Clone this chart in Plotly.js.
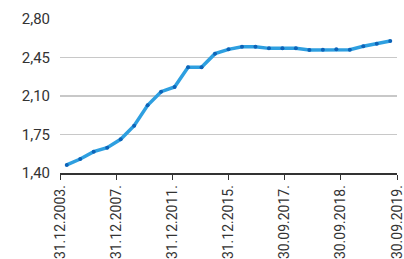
<!DOCTYPE html>
<html>
<head>
<meta charset="utf-8">
<script src="https://cdn.plot.ly/plotly-3.0.1.min.js"></script>
<style>html,body{margin:0;padding:0;background:#fff;}#chart{width:404px;height:259px;}</style>
</head>
<body>
<div id="chart"></div>
<script>
const values = [1.473, 1.527, 1.594, 1.630, 1.706, 1.830, 2.015, 2.139, 2.182, 2.361, 2.361, 2.485, 2.524, 2.548, 2.548, 2.533, 2.533, 2.533, 2.518, 2.521, 2.524, 2.521, 2.552, 2.576, 2.600];
const tickLabels = ["31.12.2003.", "31.12.2007.", "31.12.2011.", "31.12.2015.", "30.09.2017.", "30.09.2018.", "30.09.2019."];
const yTicks = [1.40, 1.75, 2.10, 2.45, 2.80];

const n = values.length;
const xs = values.map((v, i) => i);
const tickPos = tickLabels.map((t, k) => -0.5 + k * (n - 0.0001) / (tickLabels.length - 1));

Plotly.newPlot('chart', [{
  x: xs, y: values, type: 'scatter', mode: 'lines+markers',
  line: {color: '#2e9fe0', width: 3.5},
  marker: {color: '#0d63b8', size: 4},
  hoverinfo: 'none'
}], {
  width: 404, height: 259,
  margin: {l: 60, r: 7, t: 19, b: 86},
  paper_bgcolor: '#fff', plot_bgcolor: '#fff',
  showlegend: false,
  font: {family: 'Roboto, sans-serif', color: '#333'},
  xaxis: {
    range: [-0.5, n - 0.5], tickmode: 'array', tickvals: tickPos, ticktext: tickLabels,
    tickangle: -90, showgrid: false, zeroline: false, ticklabeloverflow: 'allow',
    showline: true, linecolor: '#333', linewidth: 1.5,
    ticks: 'outside', ticklen: 5, tickcolor: '#333', tickwidth: 1,
    tickfont: {size: 14, color: '#333'}, fixedrange: true
  },
  yaxis: {
    range: [1.40, 2.80], tickmode: 'array', tickvals: yTicks,
    ticktext: yTicks.map(v => v.toFixed(2).replace('.', ',')),
    showgrid: true, gridcolor: '#c8c8c8', gridwidth: 1.3,
    zeroline: false, showline: false, ticks: 'outside', ticklen: 6, tickcolor: '#fff',
    tickfont: {size: 15, color: '#333'}, fixedrange: true
  }
}, {displayModeBar: false, staticPlot: true});
</script>
</body>
</html>
